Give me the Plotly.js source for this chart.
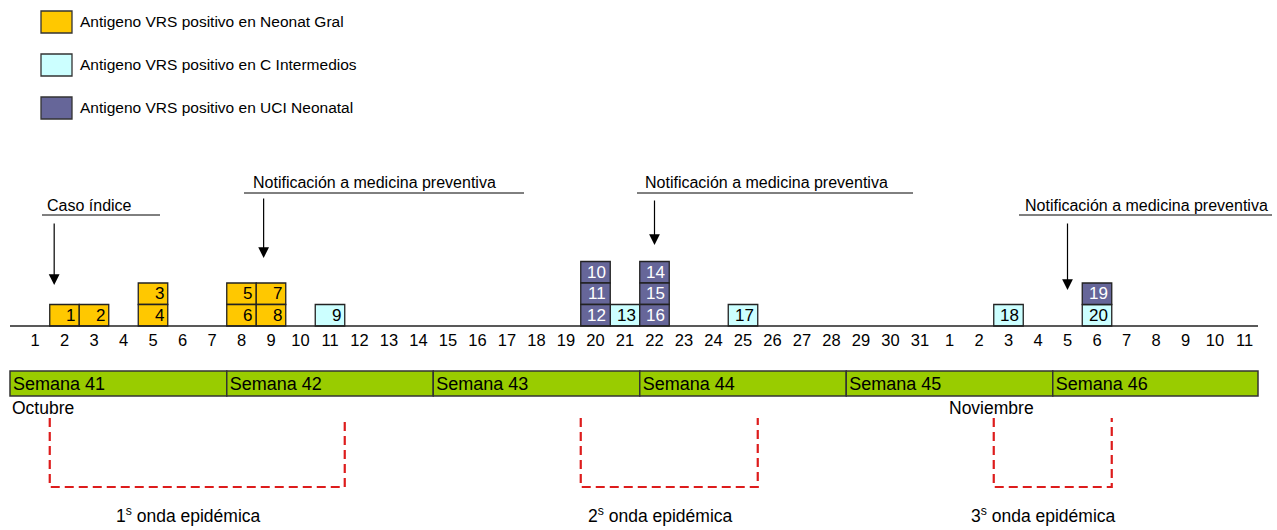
<!DOCTYPE html>
<html>
<head>
<meta charset="utf-8">
<script src="https://cdn.plot.ly/plotly-3.0.1.min.js"></script>
<style>html,body{margin:0;padding:0;background:#fff;}#chart{width:1277px;height:530px;}</style>
</head>
<body>
<div id="chart"></div>
<script>
// ---------- DATA ----------
// Day labels along the timeline (1–31 October, 1–11 November)
const dayLabels = ["1","2","3","4","5","6","7","8","9","10","11","12","13","14","15","16","17","18","19","20","21","22","23","24","25","26","27","28","29","30","31",
                   "1","2","3","4","5","6","7","8","9","10","11"];
// Case numbers and the day (index into dayLabels) each case was detected
const caseNumbers = [1,2,3,4,5,6,7,8,9,10,11,12,13,14,15,16,17,18,19,20];
const caseDayIdx  = [1,2,4,4,7,7,8,8,10,19,19,19,20,21,21,21,24,33,36,36];
// Unit where each case was detected
const caseUnit = ["Gral","Gral","Gral","Gral","Gral","Gral","Gral","Gral","CI","UCI","UCI","UCI","CI","UCI","UCI","UCI","CI","CI","UCI","CI"];
const unitKeys   = ["Gral","CI","UCI"];
const unitNames  = ["Antigeno VRS positivo en Neonat Gral","Antigeno VRS positivo en C Intermedios","Antigeno VRS positivo en UCI Neonatal"];
const unitColors = ["#FFC800","#CCFFFF","#666699"];
const unitText   = ["#000000","#000000","#FFFFFF"];
// Epidemiological weeks (first day index of each week)
const weekNames    = ["Semana 41","Semana 42","Semana 43","Semana 44","Semana 45","Semana 46"];
const weekFirstDay = [0,7,14,21,28,35];
// Months
const monthNames    = ["Octubre","Noviembre"];
const monthFirstDay = [0,31];
// Events
const indexCaseDay = 1;
const notifDays    = [8,21,35];
// Epidemic waves (first / last day index with cases)
const waveLabels   = ["1<sup>s</sup> onda epidémica","2<sup>s</sup> onda epidémica","3<sup>s</sup> onda epidémica"];
const waveFirstDay = [1,19,33];
const waveLastDay  = [10,24,36];

// ---------- LAYOUT GEOMETRY ----------
const W = 1277, H = 530;
const PXDAY = 29.5, X0 = 35;          // pixel of day index 0, pixels per day
const BASE = 326, ROW = 21.5;         // baseline pixel, box height in pixels
const xRange = [-X0/PXDAY, (W - X0)/PXDAY];
const yRange = [-(H - BASE)/ROW, BASE/ROW];
const yU = p => (BASE - p)/ROW;       // pixel row -> y units
const px = p => p/W, py = p => (H - p)/H;
const xLo = (10 - X0)/PXDAY, xHi = (1258 - X0)/PXDAY;
const FONT = "Liberation Sans, Arial, Helvetica, sans-serif";

// stack level: within a day, higher case numbers sit lower
const caseLevel = caseNumbers.map((n,i) =>
  caseNumbers.filter((m,j) => caseDayIdx[j] === caseDayIdx[i] && m > n).length);

const traces = [];
const annotations = [];
const shapes = [];

unitKeys.forEach((u,k) => {
  const idx = caseNumbers.map((_,i)=>i).filter(i => caseUnit[i] === u);
  traces.push({
    type: "bar", orientation: "v",
    x: idx.map(i => caseDayIdx[i]),
    y: idx.map(() => 1),
    base: idx.map(i => caseLevel[i]),
    width: 1,
    textposition: "none",
    marker: {color: unitColors[k], line: {color: "#222", width: 1.3}},
    name: unitNames[k], showlegend: false, hoverinfo: "skip", cliponaxis: false
  });
  idx.forEach(i => {
    annotations.push({xref:"x", yref:"y", x: caseDayIdx[i] + 0.5, y: caseLevel[i] + 0.5,
                      xanchor:"right", yanchor:"middle", xshift:-2, yshift:0,
                      text: String(caseNumbers[i]), showarrow:false,
                      font:{size:17, color:unitText[k], family:FONT}});
  });
});

// Weeks as horizontal bars
const wkStart = weekFirstDay.map((d,i) => i === 0 ? xLo : d - 0.5);
const wkEnd   = weekFirstDay.map((d,i) => i === weekFirstDay.length-1 ? xHi : weekFirstDay[i+1] - 0.5);
const wkTop = yU(371), wkBot = yU(396);
traces.push({
  type: "bar", orientation: "h",
  y: weekNames.map(() => (wkTop + wkBot)/2),
  x: wkEnd.map((e,i) => e - wkStart[i]),
  base: wkStart,
  width: wkTop - wkBot,
  text: weekNames,
  textposition: "inside", insidetextanchor: "start", textangle: 0, constraintext: "none",
  textfont: {size: 18, color: "#000", family: FONT},
  marker: {color: "#99CC00", line: {color: "#333", width: 1.5}},
  showlegend: false, hoverinfo: "skip", cliponaxis: false
});

// baseline
shapes.push({type:"line", xref:"x", yref:"y", x0:xLo, x1:xHi, y0:0, y1:0, line:{color:"#222", width:1.5}});

// manual legend
const legTop = [11, 54, 97];
unitNames.forEach((n,k) => {
  shapes.push({type:"rect", xref:"paper", yref:"paper", x0:px(41), x1:px(72), y0:py(legTop[k]), y1:py(legTop[k]+22),
               fillcolor:unitColors[k], line:{color:"#333", width:1.3}});
  annotations.push({xref:"paper", yref:"paper", x:px(78), y:py(legTop[k]+11), xanchor:"left", yanchor:"middle",
                    text:n, showarrow:false, font:{size:15.5, color:"#000", family:FONT}});
});

// Event labels with underline and arrow
function event(label, textX, textY, lineX0, lineX1, lineY, arrowDay, tailY, headY){
  annotations.push({xref:"paper", yref:"paper", x:px(textX), y:py(textY), xanchor:"left", yanchor:"middle",
                    text:label, showarrow:false, font:{size:16, color:"#000", family:FONT}});
  shapes.push({type:"line", xref:"paper", yref:"paper", x0:px(lineX0), x1:px(lineX1), y0:py(lineY), y1:py(lineY),
               line:{color:"#000", width:1}});
  annotations.push({xref:"x", yref:"y", x:arrowDay, y:yU(headY), ax:0, ay:-(headY - tailY), axref:"pixel", ayref:"pixel",
                    text:"", showarrow:true, arrowhead:2, arrowsize:1.8, arrowwidth:1.2, arrowcolor:"#000"});
}
event("Caso índice", 45, 205, 42, 160, 215, indexCaseDay - 0.35, 222, 285);
event("Notificación a medicina preventiva", 251, 182, 244, 524, 193, notifDays[0] - 0.25, 197, 258);
event("Notificación a medicina preventiva", 643, 182, 637, 913, 193, notifDays[1], 199, 245);
event("Notificación a medicina preventiva", 1023, 205, 1019, 1272, 215, notifDays[2], 222, 290);

// Months
monthNames.forEach((m,i) => {
  annotations.push({xref:"x", yref:"y", x: i === 0 ? xLo : monthFirstDay[i] - 0.1, y:yU(408), xanchor:"left", yanchor:"middle",
                    text:m, showarrow:false, font:{size:17.5, color:"#000", family:FONT}});
});

// Epidemic waves
const wTop = yU(418), wBot = yU(487);
waveLabels.forEach((lab,i) => {
  const a = waveFirstDay[i] - 0.5, b = waveLastDay[i] + 0.5;
  shapes.push({type:"path", xref:"x", yref:"y",
               path:`M${a},${wTop} L${a},${wBot} L${b},${wBot} L${b},${wTop}`,
               line:{color:"#DD1C1C", width:2.2, dash:"9px,5px"}});
  annotations.push({xref:"x", yref:"y", x:(a+b)/2 - 0.3, y:yU(515), xanchor:"center", yanchor:"middle",
                    text:lab, showarrow:false, font:{size:17.5, color:"#000", family:FONT}});
});

const layout = {
  width: W, height: H,
  margin: {l:0, r:0, t:0, b:0, pad:0},
  paper_bgcolor: "#fff", plot_bgcolor: "#fff",
  barmode: "overlay",
  showlegend: false,
  font: {family: FONT, color: "#000"},
  xaxis: {range: xRange, domain:[0,1], anchor:"free", position: py(BASE),
          tickmode:"array", tickvals: dayLabels.map((_,i)=>i), ticktext: dayLabels,
          ticks:"", showline:false, showgrid:false, zeroline:false,
          tickfont:{size:16.5, color:"#000", family:FONT}, ticklabelstandoff: 2, fixedrange:true},
  yaxis: {range: yRange, visible:false, showgrid:false, zeroline:false, fixedrange:true},
  shapes: shapes,
  annotations: annotations
};

Plotly.newPlot("chart", traces, layout, {displayModeBar:false, staticPlot:true});
</script>
</body>
</html>
